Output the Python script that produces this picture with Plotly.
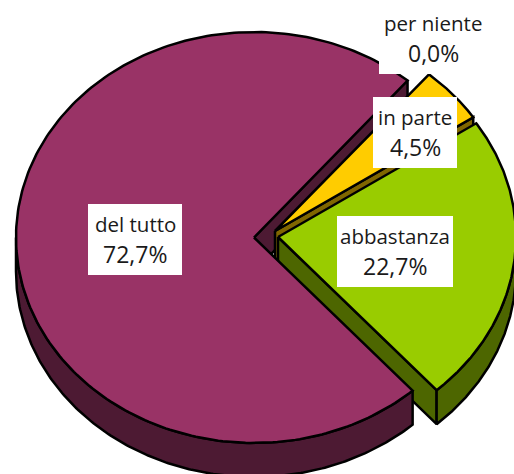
import numpy as np
import plotly.graph_objects as go

categories = ["del tutto", "per niente", "in parte", "abbastanza"]
values = [72.7, 0.0, 4.5, 22.7]
pct_labels = ["72,7%", "0,0%", "4,5%", "22,7%"]

top_colors = {"del tutto": "#993366", "in parte": "#FFCC00", "abbastanza": "#99CC00"}
side_colors = {"del tutto": "#4D1A33", "in parte": "#806600", "abbastanza": "#4D6600"}
centers = {"del tutto": (254, 237.5), "in parte": (275, 231), "abbastanza": (278, 237)}
RX, RY, DEPTH = 238, 205.5, 34
START = 138.2
FONT = "Open Sans"
FS_NAME = 20.5
FS_PCT = 23

boxes = {"del tutto": (88, 204, 182, 275), "per niente": (379, 3, 487, 74),
         "in parte": (373, 97, 457, 168), "abbastanza": (337, 216, 453, 287)}

total = sum(values)
spans, a = {}, START
for c, v in zip(categories, values):
    spans[c] = (a, a + v / total * 360)
    a += v / total * 360


def pt(c, ang, drop=0):
    t = np.radians(ang)
    cx, cy = centers[c]
    return cx + RX * np.sin(t), cy - RY * np.cos(t) + drop


def poly(fig, xs, ys, color):
    fig.add_trace(go.Scatter(x=list(xs), y=list(ys), mode="lines", fill="toself", fillcolor=color,
                             line=dict(color="black", width=2.5), hoverinfo="skip", showlegend=False))


def top(fig, c):
    a0, a1 = spans[c]
    ang = np.linspace(a0, a1, 240)
    x, y = pt(c, ang)
    cx, cy = centers[c]
    poly(fig, [cx, *x, cx], [cy, *y, cy], top_colors[c])


def cut_wall(fig, c, ang):
    cx, cy = centers[c]
    x, y = pt(c, ang)
    poly(fig, [cx, x, x, cx, cx], [cy, y, y + DEPTH, cy + DEPTH, cy], side_colors[c])


def outer_wall(fig, c, a0, a1):
    ang = np.linspace(a0, a1, 200)
    x, y = pt(c, ang)
    poly(fig, [*x, *x[::-1], x[0]], [*y, *(y[::-1] + DEPTH), y[0]], side_colors[c])


fig = go.Figure()
m0, m1 = spans["del tutto"]
g0, g1 = spans["abbastanza"]
y0, y1 = spans["in parte"]
cut_wall(fig, "del tutto", m1)
cut_wall(fig, "in parte", y1)
top(fig, "in parte")
cut_wall(fig, "abbastanza", g1)
outer_wall(fig, "abbastanza", 90, g1 % 360)
top(fig, "abbastanza")
outer_wall(fig, "del tutto", m0, 270)
top(fig, "del tutto")

for c, pct in zip(categories, pct_labels):
    bx0, by0, bx1, by1 = boxes[c]
    fig.add_shape(type="rect", x0=bx0, y0=by0, x1=bx1, y1=by1, fillcolor="white", line_width=0, layer="above")
    xc = (bx0 + bx1) / 2
    for txt, yy, fs in ((c, by0 + 20, FS_NAME), (pct, by0 + 49.5, FS_PCT)):
        fig.add_annotation(x=xc, y=yy, text=txt, showarrow=False, xanchor="center", yanchor="middle",
                           font=dict(family=FONT, size=fs, color="#1a1a1a"))

fig.update_layout(width=514, height=474, margin=dict(l=0, r=0, t=0, b=0), showlegend=False,
                  paper_bgcolor="white", plot_bgcolor="white",
                  xaxis=dict(range=[0, 514], visible=False, fixedrange=True),
                  yaxis=dict(range=[474, 0], visible=False, fixedrange=True))
fig.write_html("out.html", config={"displayModeBar": False},
               post_script="document.body.style.margin='0';")
